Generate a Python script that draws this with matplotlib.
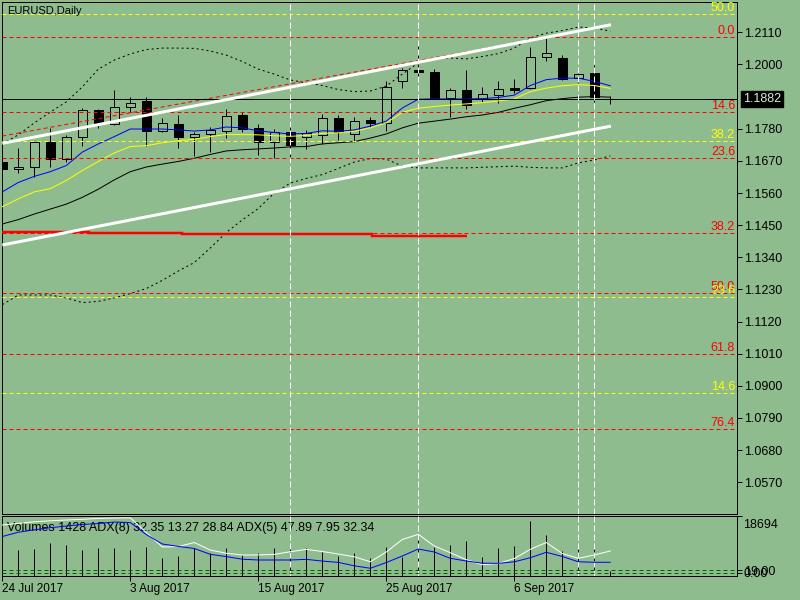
import matplotlib
matplotlib.use("Agg")
import matplotlib.pyplot as plt

BG = "#8fbc8f"
PX = 0.72  # one pixel in points at dpi 100

# candle data, 24 Jul 2017 .. 14 Sep 2017 (index = trading day)
opens = [1.1665, 1.1641, 1.1648, 1.1734, 1.1675, 1.1751, 1.1844, 1.1796, 1.1855, 1.1875,
         1.1773, 1.1796, 1.1753, 1.1761, 1.1773, 1.1827, 1.1781, 1.1736, 1.1770, 1.1753,
         1.1759, 1.1818, 1.1761, 1.1810, 1.1801, 1.1944, 1.1981, 1.1973, 1.1884, 1.1913,
         1.1881, 1.1895, 1.1918, 1.1918, 1.2024, 1.2021, 1.1953, 1.1970, 1.1882]
highs = [1.1673, 1.1713, 1.1738, 1.1781, 1.1759, 1.1850, 1.1847, 1.1913, 1.1890, 1.1890,
         1.1816, 1.1827, 1.1770, 1.1787, 1.1847, 1.1838, 1.1795, 1.1778, 1.1799, 1.1776,
         1.1830, 1.1827, 1.1821, 1.1819, 1.1943, 1.1987, 1.2072, 1.1983, 1.1918, 1.1981,
         1.1922, 1.1943, 1.1950, 1.2061, 1.2092, 1.2032, 1.1981, 1.1998, 1.1893]
lows = [1.1635, 1.1627, 1.1616, 1.1650, 1.1667, 1.1722, 1.1784, 1.1793, 1.1838, 1.1722,
        1.1770, 1.1715, 1.1687, 1.1701, 1.1749, 1.1770, 1.1690, 1.1680, 1.1662, 1.1710,
        1.1728, 1.1741, 1.1736, 1.1787, 1.1773, 1.1918, 1.1947, 1.1882, 1.1821, 1.1846,
        1.1872, 1.1867, 1.1903, 1.1915, 1.2012, 1.1947, 1.1935, 1.1872, 1.1865]
closes = [1.1641, 1.1648, 1.1734, 1.1675, 1.1751, 1.1844, 1.1801, 1.1855, 1.1869, 1.1773,
          1.1799, 1.1753, 1.1762, 1.1776, 1.1824, 1.1778, 1.1736, 1.1770, 1.1724, 1.1764,
          1.1816, 1.1770, 1.1808, 1.1801, 1.1924, 1.1981, 1.1973, 1.1882, 1.1913, 1.1861,
          1.1898, 1.1915, 1.1913, 1.2024, 1.2038, 1.1950, 1.1967, 1.1890, 1.1882]

ma_blue = [1.1564, 1.1596, 1.1617, 1.1633, 1.1654, 1.1700, 1.1728, 1.1753, 1.1779, 1.1779,
           1.1779, 1.1776, 1.1772, 1.1776, 1.1786, 1.1783, 1.1773, 1.1767, 1.1762, 1.1764,
           1.1773, 1.1771, 1.1776, 1.1789, 1.1806, 1.1851, 1.1881, 1.1882, 1.1882, 1.1882,
           1.1883, 1.1887, 1.1895, 1.1928, 1.1948, 1.1953, 1.1953, 1.1942, 1.1927]
ma_yellow = [1.1513, 1.1540, 1.1564, 1.1575, 1.1603, 1.1637, 1.1668, 1.1697, 1.1719, 1.1722,
             1.1732, 1.1739, 1.1744, 1.1753, 1.1760, 1.1760, 1.1759, 1.1756, 1.1754, 1.1757,
             1.1764, 1.1766, 1.1771, 1.1783, 1.1800, 1.1836, 1.1850, 1.1856, 1.1861, 1.1865,
             1.1869, 1.1875, 1.1882, 1.1907, 1.1919, 1.1927, 1.1931, 1.1928, 1.1918]
ma_black = [1.1454, 1.1469, 1.1488, 1.1505, 1.1522, 1.1545, 1.1573, 1.1605, 1.1633, 1.1649,
            1.1659, 1.1668, 1.1679, 1.1692, 1.1704, 1.1708, 1.1711, 1.1714, 1.1718, 1.1719,
            1.1728, 1.1732, 1.1736, 1.1748, 1.1762, 1.1783, 1.1799, 1.1806, 1.1813, 1.1821,
            1.1827, 1.1836, 1.1850, 1.1862, 1.1876, 1.1883, 1.1888, 1.1890, 1.1888]
bb_upper = [1.1728, 1.1759, 1.1800, 1.1837, 1.1872, 1.1923, 1.1984, 1.2015, 1.2036, 1.2051,
            1.2056, 1.2056, 1.2055, 1.2046, 1.2032, 1.2010, 1.1984, 1.1967, 1.1947, 1.1937,
            1.1928, 1.1914, 1.1907, 1.1909, 1.1926, 1.1967, 1.2005, 1.2022, 1.2022, 1.2019,
            1.2027, 1.2037, 1.2056, 1.2091, 1.2107, 1.2116, 1.2128, 1.2125, 1.2114]
bb_lower = [1.1178, 1.1211, 1.1211, 1.1211, 1.1201, 1.1185, 1.1189, 1.1201, 1.1216, 1.1233,
            1.1261, 1.1293, 1.1322, 1.1372, 1.1425, 1.1468, 1.1507, 1.1560, 1.1594, 1.1610,
            1.1623, 1.1644, 1.1666, 1.1678, 1.1676, 1.1652, 1.1646, 1.1646, 1.1646, 1.1646,
            1.1648, 1.1650, 1.1652, 1.1648, 1.1646, 1.1646, 1.1663, 1.1673, 1.1687]

volumes = [12000, 8142, 8364, 10264, 9726, 8142, 8680, 8870, 8142, 9187,
           5702, 6241, 8680, 7096, 8680, 6558, 7096, 8680, 9948, 8680,
           7603, 6336, 7096, 5512, 9187, 6019, 12894, 9187, 9726, 10993,
           6019, 8870, 9409, 17107, 12894, 7825, 8364, 8554, 1428]
adx5 = [83.6, 85.9, 88.1, 89.4, 90.5, 91.4, 92.7, 93.2, 93.6, 73.3,
        53.4, 54.0, 59.5, 49.2, 44.8, 42.4, 42.4, 43.2, 46.9, 50.1,
        47.2, 43.7, 39.9, 33.1, 46.5, 63.7, 70.8, 54.7, 45.5, 36.0,
        29.0, 30.7, 37.5, 50.2, 59.5, 44.4, 37.8, 42.4, 47.89]
adx8 = [67.8, 73.7, 77.0, 79.9, 82.2, 84.4, 85.7, 87.7, 87.0, 70.5,
        57.5, 54.2, 51.3, 43.3, 40.2, 36.6, 35.5, 35.5, 35.5, 36.4,
        34.0, 32.2, 27.5, 24.1, 32.0, 41.0, 50.6, 46.5, 37.8, 34.1,
        31.1, 30.9, 33.0, 38.6, 46.1, 40.3, 33.1, 32.3, 32.35]

# chart objects
red_fib_labels = ["0.0", "14.6", "23.6", "38.2", "50.0", "61.8", "76.4"]
red_fib_prices = [1.2093, 1.1836, 1.1679, 1.1422, 1.1217, 1.1008, 1.0751]
yellow_fib_labels = ["50.0", "38.2", "23.6", "14.6"]
yellow_fib_prices = [1.2172, 1.1737, 1.1204, 1.0875]
upper_channel = ([0, 38.04], [1.1730, 1.2136])
lower_channel = ([0, 38.04], [1.1382, 1.1789])
fib_base = ([0, 33.6], [1.1755, 1.2089])
step_edges = [0, 5.4, 11.25, 17.2, 23.1, 29.05]
step_prices = [1.1427, 1.1423, 1.1421, 1.1419, 1.1414]
vline_idx = [18, 26, 36, 37]
last_price = 1.1882
vol_max = 18694
adx_levels = [21.7, 18.0]
adx_level_labels = ["19.00", "0.00"]

date_ticks = [0, 8, 16, 24, 32]
date_labels = ["24 Jul 2017", "3 Aug 2017", "15 Aug 2017", "25 Aug 2017", "6 Sep 2017"]
price_ticks = [1.2110, 1.2000, 1.1780, 1.1670, 1.1560, 1.1450, 1.1340, 1.1230,
               1.1120, 1.1010, 1.0900, 1.0790, 1.0680, 1.0570]

plt.rcParams["font.family"] = ["Liberation Sans", "DejaVu Sans"]

fig = plt.figure(figsize=(8, 6), dpi=100, facecolor=BG)
ax = fig.add_axes([2.3 / 800, 85.7 / 600, 735 / 800, 512 / 600], facecolor=BG)
axv = fig.add_axes([2.3 / 800, 24.3 / 600, 735 / 800, 59.4 / 600], facecolor=BG)
axa = axv.twinx()

xmax = 735 / 16
for a in (ax, axv):
    a.set_xlim(0, xmax)
ax.set_ylim(1.04604, 1.22127)
axv.set_ylim(0, vol_max)
axa.set_ylim(13.9, 95.6)

# candles
for i in range(len(opens)):
    o, h, l, c = opens[i], highs[i], lows[i], closes[i]
    ax.vlines(i, l, h, color="black", lw=PX, zorder=2)
    bear = c < o
    ax.bar(i, abs(c - o), bottom=min(o, c), width=0.56,
           facecolor="black" if bear else BG, edgecolor="black", lw=PX, zorder=2.1)

idx = list(range(len(opens)))
ax.plot(idx, ma_black, color="black", lw=PX, zorder=3)
ax.plot(idx, ma_yellow, color="yellow", lw=PX, zorder=3)
ax.plot(idx, ma_blue, color="blue", lw=PX, zorder=3)
ax.plot(idx, bb_upper, color="black", lw=PX, dashes=(2, 3), zorder=3)
ax.plot(idx, bb_lower, color="black", lw=PX, dashes=(2, 3), zorder=3)

# fibonacci levels
for lab, p in zip(red_fib_labels, red_fib_prices):
    ax.axhline(p, color="red", lw=PX, dashes=(4, 3), zorder=4)
    ax.annotate(lab, xy=(1, p), xycoords=ax.get_yaxis_transform(), xytext=(-1.6, 2.2),
                textcoords="offset points", ha="right", va="baseline", color="red", fontsize=9)
for lab, p in zip(yellow_fib_labels, yellow_fib_prices):
    ax.axhline(p, color="yellow", lw=PX, dashes=(4, 3), zorder=4)
    ax.annotate(lab, xy=(1, p), xycoords=ax.get_yaxis_transform(), xytext=(-1.6, 2.2),
                textcoords="offset points", ha="right", va="baseline", color="yellow", fontsize=9)

ax.plot(*fib_base, color="red", lw=PX, dashes=(4, 3), zorder=4)
ax.plot(*upper_channel, color="white", lw=3 * PX, zorder=4.5, solid_capstyle="butt")
ax.plot(*lower_channel, color="white", lw=3 * PX, zorder=4.5, solid_capstyle="butt")
ax.stairs(step_prices, step_edges, baseline=None, color="red", lw=2.5 * PX, zorder=4)
ax.axhline(last_price, color="black", lw=PX, zorder=4)

for a in (ax, axv):
    for k in vline_idx:
        a.axvline(k, color="white", lw=PX, dashes=(6, 3), zorder=4)

# price axis
ax.yaxis.tick_right()
ax.set_yticks(price_ticks)
ax.set_yticklabels([f"{p:.4f}" for p in price_ticks])
ax.tick_params(axis="y", direction="out", length=5 * PX, width=PX, pad=1, labelsize=9, colors="black")
ax.set_xticks([])
ax.annotate(f"{last_price:.4f}", xy=(1, last_price), xycoords=ax.get_yaxis_transform(),
            xytext=(5.7 * PX, 0), textcoords="offset points", ha="left", va="center",
            fontsize=9, color="#d8ecd8",
            bbox=dict(boxstyle="square,pad=0.15", fc="black", ec="black"))
ax.annotate("EURUSD,Daily", xy=(0, 1), xycoords="axes fraction", xytext=(5 * PX, -9 * PX),
            textcoords="offset points", ha="left", va="center", fontsize=8, color="black")

# volumes + ADX panel
axv.vlines(idx, 0, volumes, color="black", lw=PX, zorder=2)
axa.plot(idx, adx5, color="white", lw=PX, zorder=3)
axa.plot(idx, adx8, color="blue", lw=PX, zorder=3)
for lv in adx_levels:
    axa.axhline(lv, color="#006400", lw=PX, dashes=(4, 3))
axv.annotate("Volumes 1428 ADX(8) 32.35 13.27 28.84 ADX(5) 47.89 7.95 32.34",
             xy=(0, 1), xycoords="axes fraction", xytext=(4.7 * PX, -11.4 * PX),
             textcoords="offset points", ha="left", va="center", fontsize=9, color="black")

axv.yaxis.tick_right()
axv.set_yticks([vol_max])
axv.set_yticklabels([])
axv.tick_params(axis="y", direction="out", length=5 * PX, width=PX)
axv.annotate(str(vol_max), xy=(1, vol_max), xycoords=axv.get_yaxis_transform(),
             xytext=(5.7 * PX, -2.5 * PX), textcoords="offset points",
             ha="left", va="top", fontsize=9, color="black")
axa.set_yticks(adx_levels)
axa.set_yticklabels(adx_level_labels)
axa.tick_params(axis="y", direction="out", length=5 * PX, width=PX, pad=1, labelsize=9)

axv.set_xticks(date_ticks)
axv.set_xticklabels(date_labels)
axv.tick_params(axis="x", direction="out", length=5 * PX, width=PX, pad=1.5, labelsize=8.5)
for lab in axv.get_xticklabels():
    lab.set_ha("left")

for a in (ax, axv, axa):
    for s in a.spines.values():
        s.set_color("black")
        s.set_linewidth(PX)
axa.spines["left"].set_visible(False)
axa.spines["top"].set_visible(False)
axa.spines["bottom"].set_visible(False)

fig.savefig("out.png", dpi=100, facecolor=BG)
